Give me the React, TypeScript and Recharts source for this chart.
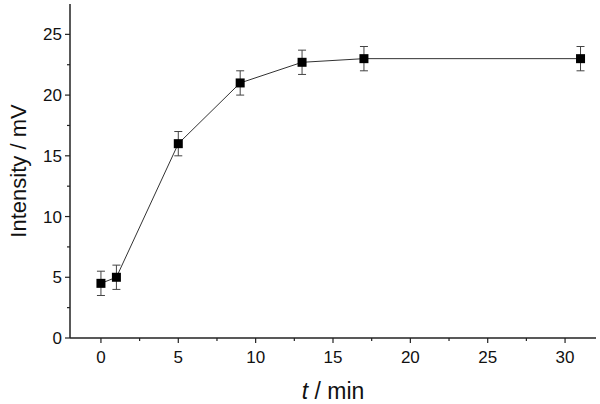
import { LineChart, Line, XAxis, YAxis, ErrorBar } from "recharts";

const times = [0, 1, 5, 9, 13, 17, 31];
const intensity = [4.5, 5, 16, 21, 22.7, 23, 23];
const errors = [1, 1, 1, 1, 1, 1, 1];

const xTicks = [0, 2.5, 5, 7.5, 10, 12.5, 15, 17.5, 20, 22.5, 25, 27.5, 30];
const yTicks = [0, 2.5, 5, 7.5, 10, 12.5, 15, 17.5, 20, 22.5, 25];

const data = times.map((t, i) => ({ t, value: intensity[i], err: errors[i] }));

const FONT = "'Liberation Sans', Arial, sans-serif";
const AXIS = "#222";

function XTick(props: any) {
  const { x, y, payload } = props;
  const major = payload.value % 5 === 0;
  return (
    <g>
      <line x1={x} x2={x} y1={y} y2={y + (major ? 5 : 3)} stroke={AXIS} strokeWidth={1.2} />
      {major && (
        <text x={x} y={y + 25} textAnchor="middle" fontSize={17} fontFamily={FONT} fill="#111">
          {payload.value}
        </text>
      )}
    </g>
  );
}

function YTick(props: any) {
  const { x, y, payload } = props;
  const major = payload.value % 5 === 0;
  return (
    <g>
      <line x1={x - (major ? 5 : 3)} x2={x} y1={y} y2={y} stroke={AXIS} strokeWidth={1.2} />
      {major && (
        <text x={x - 8} y={y + 6} textAnchor="end" fontSize={17} fontFamily={FONT} fill="#111">
          {payload.value}
        </text>
      )}
    </g>
  );
}

function SquareDot(props: any) {
  const { cx, cy } = props;
  if (cx == null || cy == null) return null;
  return <rect x={cx - 4.5} y={cy - 4.5} width={9} height={9} fill="#000" />;
}

export default function App() {
  return (
    <div style={{ position: "absolute", left: 0, top: 0, background: "#fff" }}>
      <LineChart width={600} height={404} data={data} margin={{ top: 4, right: 4, left: 0, bottom: 0 }}>
        <XAxis
          dataKey="t"
          type="number"
          domain={[-2, 32]}
          ticks={xTicks}
          interval={0}
          allowDataOverflow
          height={66}
          tickSize={0}
          tickMargin={0}
          tickLine={false}
          stroke={AXIS}
          strokeWidth={1.5}
          tick={<XTick />}
          label={{
            content: (p: any) => {
              const vb = p.viewBox;
              return (
                <text x={vb.x + vb.width / 2} y={vb.y + 61} textAnchor="middle" fontSize={23} fontFamily={FONT} fill="#111">
                  <tspan fontStyle="italic">t</tspan> / min
                </text>
              );
            },
          }}
        />
        <YAxis
          type="number"
          domain={[0, 27.5]}
          ticks={yTicks}
          interval={0}
          allowDataOverflow
          width={70}
          tickSize={0}
          tickMargin={0}
          tickLine={false}
          stroke={AXIS}
          strokeWidth={1.5}
          tick={<YTick />}
          label={{
            content: (p: any) => {
              const vb = p.viewBox;
              const cy = vb.y + vb.height / 2;
              return (
                <text x={26} y={cy} transform={`rotate(-90 26 ${cy})`} textAnchor="middle" fontSize={22} fontFamily={FONT} fill="#111">
                  Intensity / mV
                </text>
              );
            },
          }}
        />
        <Line
          dataKey="value"
          type="linear"
          stroke="#333"
          strokeWidth={1}
          dot={<SquareDot />}
          activeDot={false}
          isAnimationActive={false}
        >
          <ErrorBar dataKey="err" direction="y" width={4} stroke="#444" strokeWidth={1} isAnimationActive={false} />
        </Line>
      </LineChart>
    </div>
  );
}
